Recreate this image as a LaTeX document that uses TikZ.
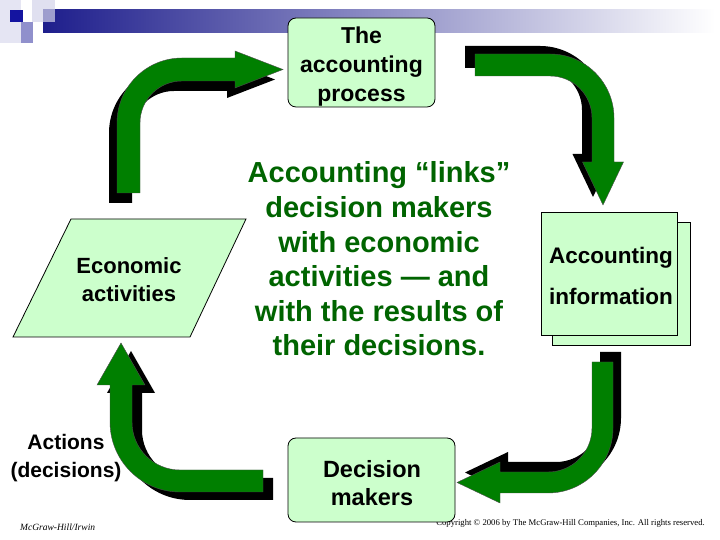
\documentclass[tikz,border=0pt]{standalone}
\usepackage{fontspec}
\setmainfont{Liberation Sans}
\newfontfamily\footserif{Liberation Serif}
\definecolor{boxgreen}{HTML}{CCFFCC}
\definecolor{arrowgreen}{HTML}{007F00}
\definecolor{textgreen}{HTML}{006400}
\definecolor{navybar}{HTML}{1E1E8C}
\definecolor{darksq}{HTML}{1414A0}
\definecolor{midsq}{HTML}{9090CC}
\definecolor{palesq}{HTML}{D4D4EA}
\begin{document}
\begin{tikzpicture}[x=1pt,y=1pt,
  box/.style={draw=black, line width=0.8pt, fill=boxgreen},
  arrowbody/.style={fill=arrowgreen, draw=black!70, line width=0.4pt},
  arrowshadow/.style={fill=black},
  lbl/.style={align=center, inner sep=0pt}]
\useasboundingbox[fill=white] (0,0) rectangle (720,540);
% header decoration
\fill[palesq!60] (0,497) rectangle (21,540);
\shade[left color=navybar, right color=white] (43,507) rectangle (715,530);
\fill[darksq] (10,518) rectangle (23,530);
\fill[midsq] (21,497) rectangle (33,518);
\fill[palesq, fill opacity=0.7] (32,518) rectangle (55,540);
% footer
\node[anchor=west, inner sep=0pt, font=\footserif\itshape\fontsize{9.5}{11}\selectfont] (mh) at (20,13) {McGraw-Hill/Irwin};
\node[anchor=east, inner sep=0pt, font=\footserif\fontsize{8.7}{10}\selectfont] (copy) at (705,17) {Copyright © 2006 by The McGraw-Hill Companies, Inc. All rights reserved.};
% boxes
\draw[box, rounded corners=8pt] (288,433) rectangle (435,522);
\node[lbl, font=\bfseries\fontsize{23}{29}\selectfont] (proc) at (361.5,473) {The\\accounting\\process};
\draw[box, line width=0.6pt] (552,195) rectangle (690,318);
\draw[box] (541,205) rectangle (677,328);
\node[lbl, font=\bfseries\fontsize{22.5}{41}\selectfont] (info) at (611,264) {Accounting\\information};
\draw[box] (71,321) -- (246,321) -- (190,203) -- (13,203) -- cycle;
\node[lbl, font=\bfseries\fontsize{22}{28}\selectfont] (econ) at (129,260) {Economic\\activities};
\draw[box, rounded corners=8pt] (288,18) rectangle (455,102);
\node[lbl, font=\bfseries\fontsize{23.5}{28}\selectfont] (dec) at (372,57) {Decision\\makers};
\node[lbl, font=\bfseries\fontsize{21}{28}\selectfont] (act) at (66,82) {Actions\\(decisions)};
\node[lbl, text=textgreen, font=\bfseries\fontsize{29}{34.6}\selectfont] (center) at (379,281) {Accounting “links”\\decision makers\\with economic\\activities — and\\with the results of\\their decisions.};
% arrow 1 (up then right)
\def\arrA{(117,347) -- (117,417) arc[start angle=180,end angle=90,radius=65] -- (235,482) -- (235,489) -- (283,470.5) -- (235,452) -- (235,459) -- (182,459) arc[start angle=90,end angle=180,radius=42] -- (140,347) -- cycle}
\fill[arrowshadow, shift={(-8,-10)}] \arrA;
\draw[arrowbody] \arrA;
% arrow 2 (right then down)
\def\arrB{(475,486) -- (550,486) arc[start angle=90,end angle=0,radius=64] -- (614,378) -- (623.5,378) -- (603,335) -- (582.5,378) -- (592,378) -- (592,422) arc[start angle=0,end angle=90,radius=42] -- (475,464) -- cycle}
\fill[arrowshadow, shift={(-10,8)}] \arrB;
\draw[arrowbody] \arrB;
% arrow 3 (down then left)
\def\arrC{(613,178) -- (613,112) arc[start angle=0,end angle=-90,radius=65] -- (500,47) -- (500,37) -- (457,57.5) -- (500,78) -- (500,68) -- (548,68) arc[start angle=-90,end angle=0,radius=44] -- (592,178) -- cycle}
\fill[arrowshadow, shift={(8,10)}] \arrC;
\draw[arrowbody] \arrC;
% arrow 4 (left then up)
\def\arrD{(263,48) -- (180,48) arc[start angle=-90,end angle=-180,radius=70] -- (110,155) -- (97,155) -- (121,197) -- (145,155) -- (132,155) -- (132,118) arc[start angle=180,end angle=270,radius=48] -- (263,70) -- cycle}
\fill[arrowshadow, shift={(10,-8)}] \arrD;
\draw[arrowbody] \arrD;
\end{tikzpicture}
\end{document}
